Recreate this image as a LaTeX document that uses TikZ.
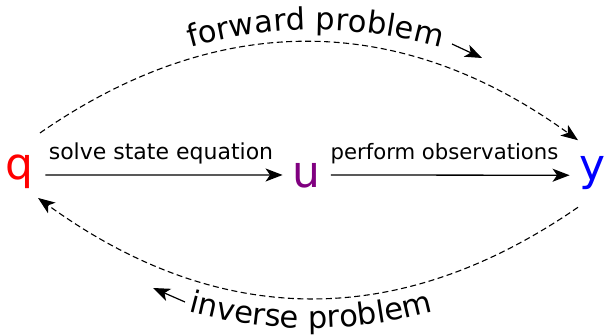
\documentclass[tikz,border=0pt]{standalone}
\usepackage{fontspec}
\setmainfont{DejaVu Sans}
\usetikzlibrary{arrows.meta,decorations.text}
\definecolor{varpurple}{RGB}{128,0,128}
\begin{document}
\begin{tikzpicture}[x=1pt,y=-1pt,
  var/.style={font=\fontsize{44}{50}\selectfont, inner sep=0pt, anchor=base},
  lbl/.style={font=\fontsize{#1}{26}\selectfont, inner sep=0pt, anchor=base},
  tip/.style={-{Stealth[length=17pt,width=13pt,inset=4.5pt]}},
  link/.style={tip, line width=1.3pt},
  dlink/.style={tip, line width=1.1pt, dash pattern=on 6pt off 3.5pt},
  small/.style={tip, line width=1.2pt},
  arctext/.style={decorate, decoration={text along path, text align=center, text={|\fontsize{30.5}{36}\selectfont|#1}}}
]
\useasboundingbox (0,0) rectangle (605,336);

\node[var, text=red] (q) at (19.5,180) {q};
\node[var, text=varpurple] (u) at (306,188) {u};
\node[var, text=blue] (y) at (592.5,181) {y};

\node[lbl=22] (l1) at (161,160) {solve state equation};
\node[lbl=21.2] (l2) at (444.5,160) {perform observations};

\draw[link] ([shift={(11.6,2.7)}]q.east) -- ([shift={(-9.3,-1)}]u.west);
\draw[link] ([shift={(10.8,-1)}]u.east) -- ([shift={(-9.7,1.7)}]y.west);

\draw[dlink] ([shift={(20.5,-39.3)}]q.center) .. controls +(179,-124) and +(-177,-128) .. ([shift={(-14.5,-33.3)}]y.center);
\draw[dlink] ([shift={(-14.5,33.7)}]y.center) .. controls +(-180,124.3) and +(180,130.3) .. ([shift={(18.5,25.7)}]q.center);

\path[arctext={forward problem}] (155.5,58) .. controls (262.2,20.7) and (368.8,20.7) .. (475.5,58);
\path[arctext={inverse problem}] (151,300) .. controls (257.7,337.3) and (364.3,337.3) .. (471,300);

\coordinate (fa) at (452,44);
\coordinate (fb) at (482,58);
\coordinate (ia) at (185,302);
\coordinate (ib) at (153,288);
\draw[small] (fa) -- (fb);
\draw[small] (ia) -- (ib);
\end{tikzpicture}
\end{document}
